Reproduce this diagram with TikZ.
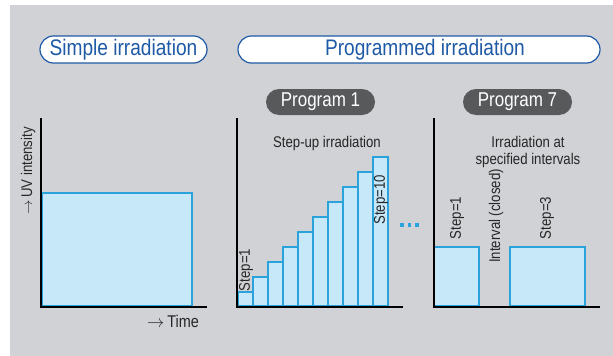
\documentclass[tikz,border=0pt]{standalone}
\usepackage{fontspec}
\setmainfont{Liberation Sans}[FakeStretch=0.85]
\definecolor{bg}{HTML}{D1D2D6}
\definecolor{pillblue}{HTML}{1F5AA6}
\definecolor{darkpill}{HTML}{58595B}
\definecolor{barfill}{HTML}{C6E8F8}
\definecolor{barline}{HTML}{2AA3DC}
\newcommand{\myarrow}{$\rightarrow$}
\tikzset{
  pill/.style={draw=pillblue, fill=white, line width=1.2pt, text=pillblue,
    minimum height=27pt, rounded corners=13.5pt, inner sep=0pt,
    font=\fontsize{22.5}{22.5}\selectfont},
  darkpill/.style={fill=darkpill, text=white, minimum height=26pt,
    minimum width=109pt, rounded corners=13pt, inner sep=0pt,
    font=\fontsize{20}{20}\selectfont},
  axis/.style={line width=2.6pt, black},
  bar/.style={draw=barline, fill=barfill, line width=1.6pt},
  lab/.style={font=\fontsize{15.5}{17}\selectfont, text=black!85, inner sep=0pt, align=center},
  vlab/.style={lab, rotate=90},
  dot/.style={fill=barline}
}
\begin{document}
\begin{tikzpicture}[x=1pt,y=-1pt]
\useasboundingbox (0,0) rectangle (613,356);
\fill[bg] (10,5) rectangle (613,356);

% headers
\node[pill, minimum width=167pt] (simple) at (123.5,49.5) {Simple irradiation};
\node[pill, minimum width=362pt] (programmed) at (419,49.5) {\hspace*{12pt}Programmed irradiation};
\node[darkpill] (p1) at (320.5,102) {Program 1};
\node[darkpill] (p7) at (517.5,102) {Program 7};

% chart 1
\draw[bar] (42,193) rectangle (192,306);
\draw[axis] (41,118) -- (41,307) -- (207,307);
\node[vlab] (uv) at (28,171) {\myarrow\,UV intensity};
\node[lab, font=\fontsize{17}{17}\selectfont] (time) at (173,321) {\myarrow\,Time};

% chart 2
\foreach \k in {1,...,10}{
  \draw[bar] ({238+15*(\k-1)},{292-15*(\k-1)}) rectangle ({253+15*(\k-1)},306);
}
\draw[axis] (237,118) -- (237,307) -- (403,307);
\node[lab] (stepup) at (327,143) {Step-up irradiation};
\node[vlab] (s1) at (246,270) {Step=1};
\node[vlab] (s10) at (381,200) {Step=10};
\foreach \x in {402,409.5,417}{
  \fill[dot] (\x-1.6,223.4) rectangle (\x+1.6,226.6);
}

% chart 3
\draw[bar] (434,247) rectangle (479,306);
\draw[bar] (510,247) rectangle (585,306);
\draw[axis] (434,118) -- (434,307) -- (600,307);
\node[lab] (interv) at (528,152) {Irradiation at\\specified intervals};
\node[vlab] (t1) at (457,218) {Step=1};
\node[vlab] (closed) at (496,216) {Interval (closed)};
\node[vlab] (t3) at (547,218) {Step=3};
\end{tikzpicture}
\end{document}
